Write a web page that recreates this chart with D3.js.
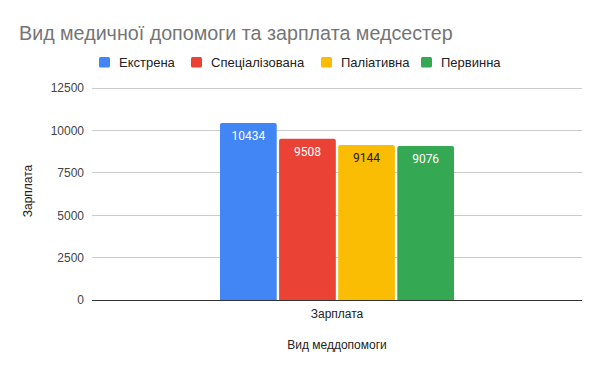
<!DOCTYPE html>
<html><head><meta charset="utf-8">
<script src="https://cdn.jsdelivr.net/npm/d3@7/dist/d3.min.js"></script>
<style>body{margin:0;background:#fff}svg{display:block;font-family:Arial,"Liberation Sans",sans-serif}</style>
</head><body><svg id="c" width="600" height="371"></svg>
<script>
const categories = ["Зарплата"];
const seriesNames = ["Екстрена", "Спеціалізована", "Паліативна", "Первинна"];
const seriesValues = [10434, 9508, 9144, 9076];
const seriesColors = ["#4285f4", "#ea4335", "#fbbc04", "#34a853"];
const labelColors = ["#ffffff", "#ffffff", "#222222", "#ffffff"];
const yTicks = [0, 2500, 5000, 7500, 10000, 12500];

const svg = d3.select("#c");
const L = 92, R = 582, T = 88, B = 300;
const y = d3.scaleLinear().domain([0, 12500]).range([B, T]);
const x0 = d3.scaleBand().domain(categories).range([L, R]).paddingInner(0).paddingOuter(0.547);
const x1 = d3.scaleBand().domain(seriesNames).range([0, x0.bandwidth()]).paddingInner(0.04).paddingOuter(0);

// title
svg.append("text").attr("x", 19).attr("y", 40).attr("fill", "#757575")
  .attr("font-size", 19.7).text("Вид медичної допомоги та зарплата медсестер");

// legend
const legX = [99, 191, 321, 421];
seriesNames.forEach((s, i) => {
  const g = svg.append("g").attr("transform", `translate(${legX[i]},57)`);
  g.append("rect").attr("width", 11).attr("height", 10.5).attr("rx", 1.5).attr("fill", seriesColors[i]);
  g.append("text").attr("x", 20).attr("y", 10).attr("font-size", 13).attr("fill", "#222").text(s);
});

// grid
svg.append("g").selectAll("line").data(yTicks.filter(d => d > 0)).join("line")
  .attr("x1", L).attr("x2", R).attr("y1", d => y(d)).attr("y2", d => y(d))
  .attr("stroke", "#cccccc").attr("stroke-width", 1).attr("shape-rendering", "crispEdges");

// y axis labels
const yAxis = d3.axisLeft(y).tickValues(yTicks).tickSize(0).tickPadding(8).tickFormat(d3.format("d"));
const ya = svg.append("g").attr("transform", `translate(${L},0)`).call(yAxis);
ya.select(".domain").remove();
ya.selectAll("text").attr("font-size", 12).attr("fill", "#444").attr("font-family", "Arial,'Liberation Sans',sans-serif");

// bars
function topRounded(x, yTop, w, h, r) {
  return `M${x},${yTop + h}V${yTop + r}Q${x},${yTop} ${x + r},${yTop}H${x + w - r}Q${x + w},${yTop} ${x + w},${yTop + r}V${yTop + h}Z`;
}
const g = svg.append("g");
categories.forEach(c => {
  seriesNames.forEach((s, i) => {
    const bx = x0(c) + x1(s), bw = x1.bandwidth();
    const yt = y(seriesValues[i]);
    g.append("path").attr("d", topRounded(bx, yt, bw, B - yt, 2)).attr("fill", seriesColors[i]);
    g.append("text").attr("x", bx + bw / 2).attr("y", yt + 17).attr("text-anchor", "middle")
      .attr("font-family", "Roboto, Arial, sans-serif")
      .attr("font-size", 12).attr("fill", labelColors[i]).text(seriesValues[i]);
  });
});

// baseline
svg.append("line").attr("x1", L).attr("x2", R).attr("y1", B + 0.5).attr("y2", B + 0.5)
  .attr("stroke", "#333").attr("stroke-width", 1);

// x axis labels
const xAxis = d3.axisBottom(x0).tickSize(0).tickPadding(9);
const xa = svg.append("g").attr("transform", `translate(0,${B})`).call(xAxis);
xa.select(".domain").remove();
xa.selectAll("text").attr("font-size", 12).attr("fill", "#222").attr("font-family", "Arial,'Liberation Sans',sans-serif");

// axis titles
svg.append("text").attr("x", (L + R) / 2).attr("y", 349).attr("text-anchor", "middle")
  .attr("font-size", 12).attr("fill", "#222").text("Вид меддопомоги");
svg.append("text").attr("transform", "translate(32,191) rotate(-90)").attr("text-anchor", "middle")
  .attr("font-size", 12).attr("fill", "#222").text("Зарплата");
</script></body></html>
